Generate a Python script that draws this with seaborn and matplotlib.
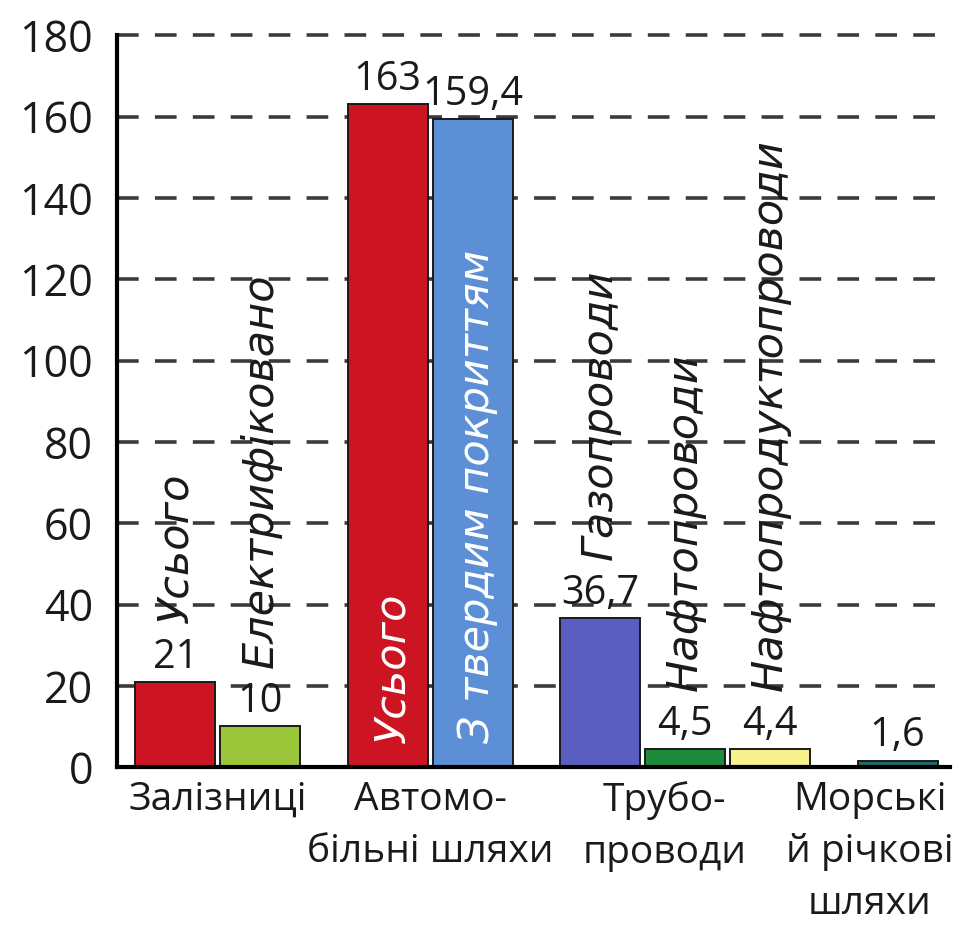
import numpy as np
import pandas as pd
import matplotlib
matplotlib.use("Agg")
import matplotlib.pyplot as plt
import seaborn as sns

# ── Data ─────────────────────────────────────────────────────────────────────
groups = ["Залізниці", "Автомо-\nбільні шляхи", "Трубо-\nпроводи", "Морські\nй річкові\nшляхи"]
bar_group = [0, 0, 1, 1, 2, 2, 2, 3]
bar_names = ["Усього", "Електрифіковано", "Усього", "З твердим покриттям",
             "Газопроводи", "Нафтопроводи", "Нафтопродуктопроводи", ""]
values = [21, 10, 163, 159.4, 36.7, 4.5, 4.4, 1.6]
value_text = ["21", "10", "163", "159,4", "36,7", "4,5", "4,4", "1,6"]
colors = ["#cc1422", "#9cc63a", "#cc1422", "#5d8fd6",
          "#5a5ec0", "#1d8a3c", "#f6f08e", "#1f6b6b"]
inside = [False, False, True, True, False, False, False, False]
yticks = list(range(0, 181, 20))

# group label nudges (points), the reference sets the last two a bit left
label_dx = [0, 0, -15, -20]

# positions: one slot per bar, half-slot gap between groups
pos = [i + 0.5 * g for i, g in enumerate(bar_group)]
df = pd.DataFrame({"pos": pos, "value": values, "key": [f"b{i}" for i in range(len(values))]})

sns.set_theme(style="white")
plt.rcParams["font.family"] = ["Open Sans", "DejaVu Sans"]

fig = plt.figure(figsize=(9.57, 9.31), dpi=100)
ax = fig.add_axes([0.122, 0.176, 0.871, 0.786])

# dashed gridlines behind bars
for yv in yticks[1:]:
    ax.axhline(yv, color="#3a3a3a", lw=2.6, ls=(0, (6, 4.5)), zorder=0, clip_on=False)

sns.barplot(data=df, x="pos", y="value", hue="key", palette=colors, native_scale=True,
            dodge=False, width=0.94, saturation=1, edgecolor="#1a1a1a", linewidth=1.4,
            legend=False, ax=ax, zorder=2)

# value labels
for p, v, t in zip(pos, values, value_text):
    ax.annotate(t, (p, v), xytext=(0, 3), textcoords="offset points",
                ha="center", va="bottom", fontsize=28.5, color="#1a1a1a")

# rotated bar names
rot_font = ["DejaVu Sans"]
for p, v, name, ins in zip(pos, values, bar_names, inside):
    if not name:
        continue
    if ins:
        ax.text(p + 0.05, 6, name, rotation=90, ha="center", va="bottom",
                fontsize=31, style="italic", family=rot_font, color="white", zorder=3)
    else:
        ax.annotate(name, (p, v), xytext=(0, 42), textcoords="offset points",
                    rotation=90, ha="center", va="bottom", family=rot_font,
                    fontsize=31, style="italic", color="#1a1a1a")

# group labels and separator ticks
centers = [np.mean([p for p, g in zip(pos, bar_group) if g == k]) for k in range(len(groups))]
seps = [(pos[i] + pos[i + 1]) / 2 for i in range(len(pos) - 1) if bar_group[i] != bar_group[i + 1]]
seps.append(pos[-1] + 0.6)

ax.set_xlim(pos[0] - 0.69, pos[-1] + 0.62)
ax.set_ylim(0, 180)
ax.set_xticks(seps, minor=True)
ax.set_xticks([])
ax.tick_params(axis="x", which="minor", direction="in", length=12, width=3, color="black")
for c, g, dx in zip(centers, groups, label_dx):
    ax.annotate(g, (c, 0), xycoords=("data", "axes fraction"), xytext=(dx, -10),
                textcoords="offset points", ha="center", va="top",
                fontsize=28, linespacing=1.48, color="#1a1a1a", annotation_clip=False)

ax.set_yticks(yticks)
ax.set_yticklabels([str(t) for t in yticks], fontsize=31)
ax.tick_params(axis="y", length=0, pad=17, colors="#1a1a1a")
ax.set_xlabel("")
ax.set_ylabel("")

for s in ["top", "right"]:
    ax.spines[s].set_visible(False)
for s in ["left", "bottom"]:
    ax.spines[s].set_color("black")
    ax.spines[s].set_linewidth(3)

fig.savefig("out.png", dpi=100)
